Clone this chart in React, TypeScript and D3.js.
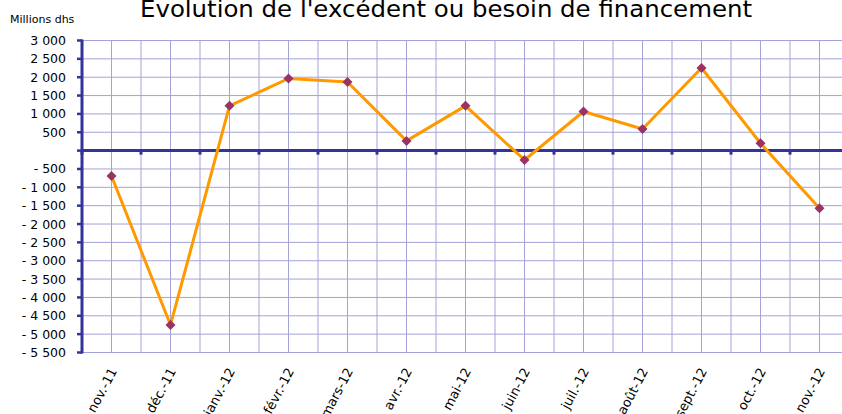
import React from "react";
import * as d3 from "d3";

const categories = ["nov.-11", "déc.-11", "janv.-12", "févr.-12", "mars-12", "avr.-12", "mai-12", "juin-12", "juil.-12", "août-12", "sept.-12", "oct.-12", "nov.-12"];
const values = [-690, -4750, 1220, 1965, 1870, 265, 1220, -255, 1065, 590, 2250, 200, -1570];
const yTicks = [3000, 2500, 2000, 1500, 1000, 500, 0, -500, -1000, -1500, -2000, -2500, -3000, -3500, -4000, -4500, -5000, -5500];
const title = "Évolution de l'excédent ou besoin de financement";
const unitLabel = "Millions dhs";

const W = 842, H = 414;
const left = 82, right = 849, top = 40.5, bottom = 352.5;
const font = "'DejaVu Sans', Verdana, sans-serif";

const fmt = (v: number) => {
  if (v === 0) return "";
  const s = Math.abs(v).toString().replace(/\B(?=(\d{3})+(?!\d))/g, " ");
  return v < 0 ? "- " + s : s;
};

export default function App() {
  const x = d3.scaleBand<string>().domain(categories).range([left, right]);
  const y = d3.scaleLinear().domain([-5500, 3000]).range([bottom, top]);
  const bw = x.bandwidth();
  const cx = (c: string) => (x(c) as number) + bw / 2;
  const line = d3.line<number>().x((_, i) => cx(categories[i])).y(v => y(v));
  const vGrid: number[] = [];
  categories.forEach(c => { vGrid.push(x(c) as number); vGrid.push(cx(c)); });
  vGrid.push(right);
  const grid = "#a3a3d9";
  const axis = "#333399";
  return (
    <svg width={W} height={H} style={{ position: "absolute", left: 0, top: 0, background: "#fff" }}>
      <text x={446} y={17} textAnchor="middle" fontFamily={font} fontSize={23.5} fill="#000" textLength={612} lengthAdjust="spacingAndGlyphs">{title}</text>
      <text x={10} y={23} fontFamily={font} fontSize={11} fill="#000">{unitLabel}</text>
      {yTicks.map(t => (
        <line key={"h" + t} x1={left} x2={right} y1={y(t)} y2={y(t)} stroke={grid} strokeWidth={1} />
      ))}
      {vGrid.map((g, i) => (
        <line key={"v" + i} x1={g} x2={g} y1={top} y2={bottom} stroke={grid} strokeWidth={1} />
      ))}
      <line x1={left} x2={left} y1={top - 1} y2={bottom + 1} stroke={axis} strokeWidth={3} />
      {yTicks.map(t => (
        <line key={"t" + t} x1={left - 5} x2={left} y1={y(t)} y2={y(t)} stroke={axis} strokeWidth={2.5} />
      ))}
      {yTicks.map(t => (
        <text key={"l" + t} x={66} y={y(t) + 4.5} textAnchor="end" fontFamily={font} fontSize={12.5} fill="#000">{fmt(t)}</text>
      ))}
      <line x1={left} x2={right} y1={y(0)} y2={y(0)} stroke={axis} strokeWidth={3} />
      {categories.map(c => (
        <line key={"xt" + c} x1={x(c) as number} x2={x(c) as number} y1={y(0)} y2={y(0) + 4} stroke={axis} strokeWidth={3} />
      ))}
      <path d={line(values) || ""} fill="none" stroke="#ff9900" strokeWidth={3} strokeLinejoin="round" />
      {values.map((v, i) => {
        const px = cx(categories[i]), py = y(v);
        return <path key={"m" + i} d={`M${px},${py - 5}L${px + 5},${py}L${px},${py + 5}L${px - 5},${py}Z`} fill="#993366" />;
      })}
      {categories.map(c => (
        <text key={"xl" + c} transform={`translate(${cx(c) + 6},${371}) rotate(-62)`} textAnchor="end" fontFamily={font} fontSize={13} fill="#000">{c}</text>
      ))}
    </svg>
  );
}
